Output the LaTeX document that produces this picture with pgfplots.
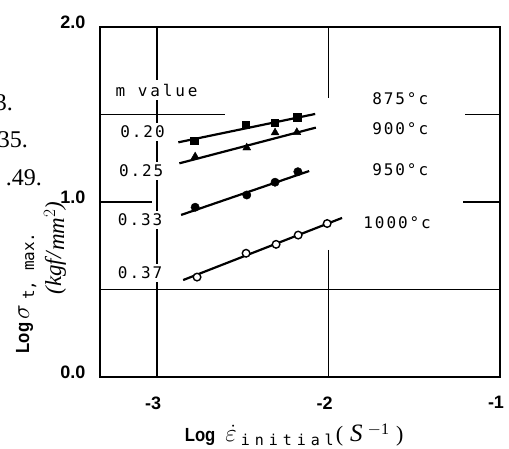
\documentclass[border=0pt]{standalone}
\usepackage{graphicx}
\usepackage{pgfplots}
\pgfplotsset{compat=1.18}
\usepackage{fontspec}
\setmainfont{Liberation Serif}
\setsansfont{Liberation Sans}
\newfontfamily\monof{DejaVu Sans Mono}[LetterSpace=12]
\newfontfamily\monoy{DejaVu Sans Mono}[LetterSpace=18]
\newfontfamily\monoz{DejaVu Sans Mono}
\newfontfamily\monow{DejaVu Sans Mono}[LetterSpace=33]
\newcommand{\LogTxt}{\scalebox{0.88}[1]{\fontsize{19}{21}\selectfont\sffamily\bfseries Log}}
\begin{document}
\begin{tikzpicture}
\begin{axis}[
  set layers,
  scale only axis,
  width=400pt, height=350pt,
  xmin=-3.333, xmax=-1, ymin=0, ymax=2,
  axis line style={line width=2.5pt},
  xtick={-3,-2,-1}, ytick={0,1,2},
  xticklabels={-3,-2,-1},
  yticklabels={0.0,1.0,2.0},
  major tick length=0pt,
  ticklabel style={font=\fontsize{18}{20}\selectfont\sffamily\bfseries},
  xticklabel style={yshift=-16pt, xshift=-4pt},
  yticklabel style={xshift=-11pt, yshift=5pt},
  clip=false,
]
% partial grid lines
\addplot[on layer=axis grid, black, line width=1.2pt, forget plot] coordinates {(-3.333,1.5) (-2.603,1.5)};
\addplot[on layer=axis grid, black, line width=1.2pt, forget plot] coordinates {(-1.203,1.5) (-1,1.5)};
\addplot[on layer=axis grid, black, line width=1.2pt, forget plot] coordinates {(-3.333,1.0) (-3.029,1.0)};
\addplot[on layer=axis grid, black, line width=1.2pt, forget plot] coordinates {(-1.215,1.0) (-1,1.0)};
\addplot[on layer=axis grid, black, line width=1.2pt, forget plot] coordinates {(-3.333,0.5) (-1,0.5)};
\addplot[on layer=axis grid, black, line width=1.2pt, forget plot] coordinates {(-3,0) (-3,2)};
\addplot[on layer=axis grid, black, line width=1.2pt, forget plot] coordinates {(-2,2) (-2,1.594)};
\addplot[on layer=axis grid, black, line width=1.2pt, forget plot] coordinates {(-2,0.726) (-2,0)};

% fitted lines
\addplot[black, line width=2.2pt] coordinates {(-2.876,1.341) (-2.078,1.503)};
\addplot[black, line width=2.2pt] coordinates {(-2.870,1.221) (-2.074,1.425)};
\addplot[black, line width=2.2pt] coordinates {(-2.860,0.926) (-2.113,1.177)};
\addplot[black, line width=2.2pt] coordinates {(-2.848,0.554) (-1.921,0.909)};

% data points
\addplot[only marks, mark=square*, mark size=3.6pt, black] coordinates {(-2.784,1.350) (-2.481,1.440) (-2.312,1.453) (-2.183,1.484)};
\addplot[only marks, mark=triangle*, mark size=4.6pt, black] coordinates {(-2.778,1.259) (-2.477,1.310) (-2.312,1.396) (-2.185,1.398)};
\addplot[only marks, mark=*, mark size=4.2pt, black] coordinates {(-2.778,0.970) (-2.477,1.040) (-2.312,1.113) (-2.179,1.173)};
\addplot[only marks, mark=*, mark size=3.8pt, mark options={fill=white, draw=black, line width=1.4pt}] coordinates {(-2.767,0.571) (-2.481,0.707) (-2.306,0.758) (-2.177,0.811) (-2.008,0.877)};

% annotations
\node[fill=white, inner sep=4pt, font=\fontsize{16}{18}\monoy] at (axis cs:-3.003,1.64) {m value};
\node[fill=white, inner sep=3pt, font=\fontsize{16}{18}\monof] at (axis cs:-3.085,1.40) {0.20};
\node[fill=white, inner sep=3pt, font=\fontsize{16}{18}\monof] at (axis cs:-3.093,1.177) {0.25};
\node[fill=white, inner sep=3pt, font=\fontsize{16}{18}\monof] at (axis cs:-3.099,0.897) {0.33};
\node[fill=white, inner sep=3pt, font=\fontsize{16}{18}\monof] at (axis cs:-3.099,0.594) {0.37};
\node[font=\fontsize{16}{18}\monof] at (axis cs:-1.582,1.589) {875°c};
\node[font=\fontsize{16}{18}\monof] at (axis cs:-1.582,1.417) {900°c};
\node[font=\fontsize{16}{18}\monof] at (axis cs:-1.582,1.183) {950°c};
\node[font=\fontsize{16}{18}\monof] at (axis cs:-1.600,0.880) {1000°c};

% axis titles
\node[anchor=base, inner sep=0pt] at (axis cs:-2.201,-0.366)
  {\LogTxt\hspace{10pt}{\fontsize{26}{28}\selectfont$\dot{\varepsilon}$}\hspace{4pt}\raisebox{-4pt}{\fontsize{15}{17}\monow initial}\hspace{2pt}{\fontsize{22}{24}\selectfont(\hspace{7pt}{\fontsize{25}{27}\selectfont\textit{S}}\hspace{5pt}\raisebox{7pt}{\fontsize{16}{18}\selectfont$-$1}\hspace{7pt})}};
\node[rotate=90, anchor=base, inner sep=0pt] at (axis cs:-3.747,0.481)
  {\LogTxt\hspace{3pt}{\fontsize{26}{28}\selectfont$\sigma$}\hspace{5pt}\raisebox{-5pt}{\fontsize{16}{18}\monoz t, max.}};
\node[rotate=90, inner sep=0pt] at (axis cs:-3.595,0.737)
  {\fontsize{23}{25}\selectfont\textit{(kgf/}\raisebox{-3pt}{\textit{mm}$^{2}$}\textit{)}};

% fragments from neighbouring text
\node[anchor=base east, inner sep=0pt, font=\fontsize{24}{26}\selectfont] at (axis cs:-3.840,1.52) {3.};
\node[anchor=base east, inner sep=0pt, font=\fontsize{24}{26}\selectfont] at (axis cs:-3.753,1.309) {35.};
\node[anchor=base east, inner sep=0pt, font=\fontsize{24}{26}\selectfont] at (axis cs:-3.671,1.097) {.49.};

\coordinate (ll) at (rel axis cs:0,0);
\coordinate (ur) at (rel axis cs:1,1);
\end{axis}
\pgfresetboundingbox
\path[use as bounding box] ([shift={(-100pt,-72pt)}]ll) rectangle ([shift={(9pt,27pt)}]ur);
\end{tikzpicture}
\end{document}
